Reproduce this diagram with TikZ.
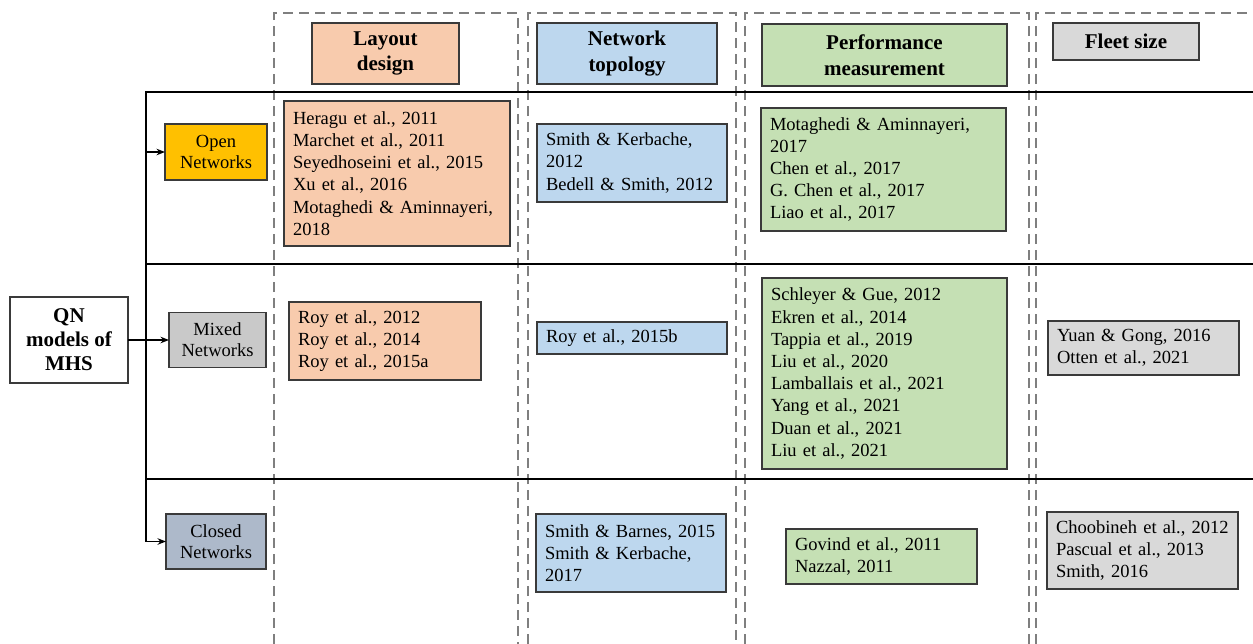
\documentclass[tikz,border=0pt]{standalone}
\usepackage{fontspec}
\setmainfont{Liberation Serif}
\usetikzlibrary{arrows.meta}

\definecolor{boxline}{HTML}{3A3A3A}
\definecolor{frameline}{HTML}{7F7F7F}
\definecolor{layoutfill}{HTML}{F8CBAD}
\definecolor{topofill}{HTML}{BDD7EE}
\definecolor{perffill}{HTML}{C5E0B4}
\definecolor{fleetfill}{HTML}{D9D9D9}
\definecolor{openfill}{HTML}{FFC000}
\definecolor{mixedfill}{HTML}{C9C9C9}
\definecolor{closedfill}{HTML}{ADB9CA}

\tikzset{
  basebox/.style={draw=boxline, line width=1.1pt, inner ysep=0pt, outer sep=0pt},
  headbox/.style={basebox, align=center, inner xsep=4pt,
    font=\fontsize{21}{25.5}\selectfont\bfseries},
  typebox/.style={basebox, align=center, inner xsep=2pt,
    font=\fontsize{18.5}{21}\selectfont},
  refbox/.style={basebox, align=left, inner xsep=9pt,
    font=\fontsize{18.5}{22.2}\selectfont},
  frame/.style={draw=frameline, line width=2.4pt, dash pattern=on 10pt off 6pt},
  rule/.style={draw=black, line width=2pt},
  link/.style={draw=black, line width=1.3pt, -{Stealth[length=8.5pt,width=6.5pt]}}
}

\begin{document}
\begin{tikzpicture}[x=1pt, y=-1pt]
\useasboundingbox (0,0) rectangle (1253,643);

% dashed column frames
\coordinate (f1a) at (274,660); \coordinate (f1b) at (518,13); \coordinate (f1c) at (518,660);
\coordinate (f2a) at (528,660); \coordinate (f2b) at (736,13); \coordinate (f2c) at (736,660);
\coordinate (f3a) at (745,660); \coordinate (f3b) at (1029,13); \coordinate (f3c) at (1029,660);
\coordinate (f4a) at (1036,660); \coordinate (f4b) at (1270,13);
\draw[frame] (f1a) |- (f1b) -- (f1c);
\draw[frame] (f2a) |- (f2b) -- (f2c);
\draw[frame] (f3a) |- (f3b) -- (f3c);
\draw[frame] (f4a) |- (f4b);

% row rules and spine
\coordinate (spinetop) at (146,92);
\coordinate (rowA) at (1260,92);
\coordinate (rowBl) at (146,264); \coordinate (rowBr) at (1260,264);
\coordinate (rowCl) at (146,479); \coordinate (rowCr) at (1260,479);

% column headers
\node[headbox, fill=layoutfill, minimum width=147pt, minimum height=61pt] (hlayout) at (385.5,53.5) {Layout\\design};
\node[headbox, fill=topofill, minimum width=180pt, minimum height=61pt] (htopo) at (627,53.5) {Network\\topology};
\node[headbox, fill=perffill, minimum width=245pt, minimum height=62pt] (hperf) at (884.5,55) {Performance\\measurement};
\node[headbox, fill=fleetfill, minimum width=146pt, minimum height=37pt] (hfleet) at (1126,41.5) {Fleet size};

% root and network types
\node[headbox, fill=white, minimum width=118pt, minimum height=86pt,
  font=\fontsize{21}{24}\selectfont\bfseries] (qn) at (69,340) {QN\\models of\\MHS};
\node[typebox, fill=openfill, minimum width=102pt, minimum height=56pt] (open) at (216,152) {Open\\Networks};
\node[typebox, fill=mixedfill, minimum width=97pt, minimum height=55pt] (mixed) at (217.5,340) {Mixed\\Networks};
\node[typebox, fill=closedfill, minimum width=100pt, minimum height=55pt] (closed) at (216,541.5) {Closed\\Networks};

\coordinate (spinebot) at (spinetop |- closed.west);
\draw[rule] (rowA) -- (spinetop) -- (spinebot);
\draw[rule] (rowBl) -- (rowBr);
\draw[rule] (rowCl) -- (rowCr);
\draw[link] (spinetop |- open.west) -- (open.west);
\draw[link] (qn.east) -- (mixed.west);
\draw[link] (spinebot) -- (closed.west);

% open networks
\node[refbox, fill=layoutfill, minimum width=226pt, minimum height=145pt, text width=208pt] (lopen) at (397,173.5)
  {Heragu et al., 2011\\Marchet et al., 2011\\Seyedhoseini et al., 2015\\Xu et al., 2016\\Motaghedi \& Aminnayeri,\\2018};
\node[refbox, fill=topofill, minimum width=190pt, minimum height=78pt, text width=172pt] (topen) at (632,163)
  {Smith \& Kerbache,\\2012\\Bedell \& Smith, 2012};
\node[refbox, fill=perffill, minimum width=245pt, minimum height=123pt, text width=227pt] (popen) at (883.5,169.5)
  {Motaghedi \& Aminnayeri,\\2017\\Chen et al., 2017\\G. Chen et al., 2017\\Liao et al., 2017};

% mixed networks
\node[refbox, fill=layoutfill, minimum width=192pt, minimum height=78pt, text width=174pt] (lmixed) at (385,341)
  {Roy et al., 2012\\Roy et al., 2014\\Roy et al., 2015a};
\node[refbox, fill=topofill, minimum width=190pt, minimum height=32pt, text width=172pt] (tmixed) at (632,338)
  {Roy et al., 2015b};
\node[refbox, fill=perffill, minimum width=245pt, minimum height=191pt, text width=227pt] (pmixed) at (884.5,373.5)
  {Schleyer \& Gue, 2012\\Ekren et al., 2014\\Tappia et al., 2019\\Liu et al., 2020\\Lamballais et al., 2021\\Yang et al., 2021\\Duan et al., 2021\\Liu et al., 2021};
\node[refbox, fill=fleetfill, minimum width=191pt, minimum height=54pt, text width=173pt] (fmixed) at (1143.5,348)
  {Yuan \& Gong, 2016\\Otten et al., 2021};

% closed networks
\node[refbox, fill=topofill, minimum width=190pt, minimum height=78pt, text width=172pt] (tclosed) at (631,553)
  {Smith \& Barnes, 2015\\Smith \& Kerbache,\\2017};
\node[refbox, fill=perffill, minimum width=191pt, minimum height=55pt, text width=173pt] (pclosed) at (881.5,556.5)
  {Govind et al., 2011\\Nazzal, 2011};
\node[refbox, fill=fleetfill, minimum width=191pt, minimum height=77pt, text width=173pt] (fclosed) at (1142.5,550.5)
  {Choobineh et al., 2012\\Pascual et al., 2013\\Smith, 2016};
\end{tikzpicture}
\end{document}
